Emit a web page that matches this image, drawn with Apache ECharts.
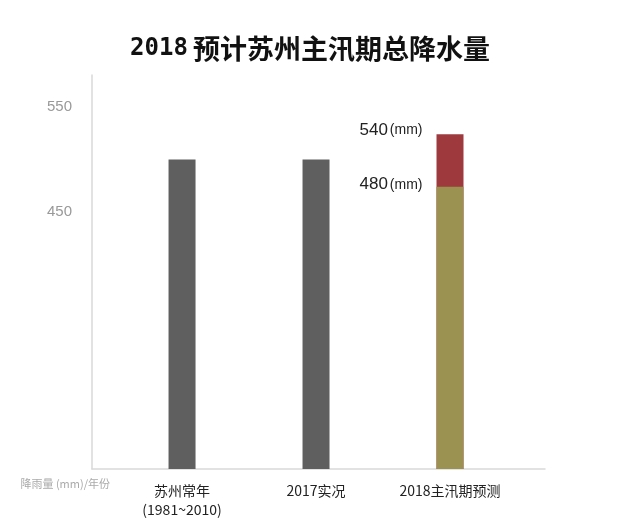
<!DOCTYPE html>
<html><head><meta charset="utf-8">
<script src="https://cdn.jsdelivr.net/npm/echarts@6/dist/echarts.min.js"></script>
<style>html,body{margin:0;padding:0;background:#fff}#c{width:620px;height:527px}</style>
</head><body><div id="c"></div>
<script>
const categories = ['苏州常年\n(1981~2010)', '2017实况', '2018主汛期预测'];
const observedValues = [500, 500, null];
const forecastLow = [null, null, 474];
const forecastHigh = [null, null, 524];
const forecastLabels = ['480', '540'];
const yTickLabels = [450, 550];
const titleYear = '2018';
const titleText = '预计苏州主汛期总降水量';
const axisName = '降雨量 (mm)/年份';

function toPoints(arr){ const out=[]; arr.forEach((v,i)=>{ if(v!==null) out.push([i,v]); }); return out; }
function lbl(text, dy){
  return {show:true,position:[-14,dy],align:'right',verticalAlign:'middle',
    formatter:()=>'{n|'+text+'}{u|(mm)}',
    rich:{n:{fontSize:17,color:'#222',fontFamily:'Liberation Sans'},u:{fontSize:14,color:'#222',fontFamily:'Liberation Sans',padding:[0,0,0,2]}}};
}

const chart = echarts.init(document.getElementById('c'));
chart.setOption({
  backgroundColor:'#fff',
  animation:false,
  title:{
    text:'{a|'+titleYear+'} {b|'+titleText+'}',
    left:'center', top:30,
    textStyle:{rich:{
      a:{fontFamily:'DejaVu Sans Mono',fontWeight:'bold',fontSize:24,color:'#111'},
      b:{fontFamily:'Noto Sans CJK SC',fontWeight:'bold',fontSize:27,color:'#111'}
    }}
  },
  grid:{left:92,right:75,top:75,bottom:58,containLabel:false},
  xAxis:{
    type:'value', min:-0.672, max:2.709,
    splitLine:{show:false},
    axisLine:{show:true,onZero:false,lineStyle:{color:'#d9d9d9',width:1.5}},
    axisTick:{show:false},
    axisLabel:{customValues:[0,1,2],margin:12,color:'#222',fontSize:14,lineHeight:19,
      fontFamily:'Noto Sans CJK SC',formatter:v=>categories[Math.round(v)]},
    name:axisName, nameLocation:'start', nameGap:-18,
    nameTextStyle:{color:'#aaa',fontSize:11,fontFamily:'Noto Sans CJK SC',align:'right',verticalAlign:'top',padding:[9,0,0,0]}
  },
  yAxis:{
    type:'value', min:205.2, max:580.5,
    splitLine:{show:false},
    axisLine:{show:true,onZero:false,lineStyle:{color:'#d9d9d9',width:1.5}},
    axisTick:{show:false},
    axisLabel:{customValues:yTickLabels,color:'#999',fontSize:15,margin:20,fontFamily:'Liberation Sans'}
  },
  series:[
    {type:'bar',data:toPoints(observedValues),barWidth:27,barGap:'-100%',itemStyle:{color:'#5f5f5f'}},
    {type:'bar',data:toPoints(forecastHigh),barWidth:27,barGap:'-100%',itemStyle:{color:'#9e3a3e'},label:lbl(forecastLabels[1],-4)},
    {type:'bar',data:toPoints(forecastLow),barWidth:27,barGap:'-100%',itemStyle:{color:'#9b9150'},label:lbl(forecastLabels[0],-2)}
  ]
});
</script></body></html>
